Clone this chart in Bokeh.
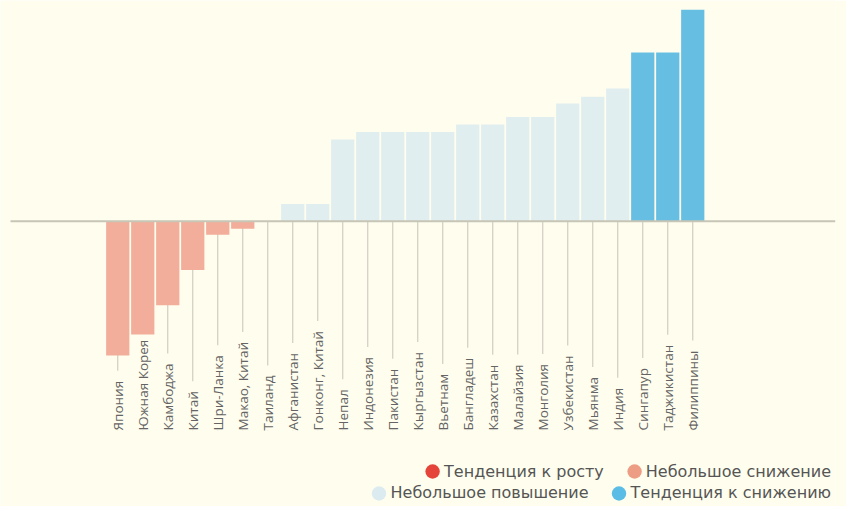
import math
from bokeh.plotting import figure
from bokeh.models import ColumnDataSource, Legend, LegendItem, Range1d
from bokeh.core.properties import value
from bokeh.embed import file_html
from bokeh.resources import INLINE

# ---- data ----
countries = ["Япония", "Южная Корея", "Камбоджа", "Китай", "Шри-Ланка", "Макао, Китай",
             "Таиланд", "Афганистан", "Гонконг, Китай", "Непал", "Индонезия", "Пакистан",
             "Кыргызстан", "Вьетнам", "Бангладеш", "Казахстан", "Малайзия", "Монголия",
             "Узбекистан", "Мьянма", "Индия", "Сингапур", "Таджикистан", "Филиппины"]
values = [-17.9, -15.1, -11.2, -6.5, -1.8, -1.0,
          0.0, 2.3, 2.3, 10.9, 11.9, 11.9,
          11.9, 11.9, 12.9, 12.9, 13.9, 13.9,
          15.7, 16.6, 17.7, 22.5, 22.5, 28.2]
groups = ["Небольшое снижение"] * 6 + ["Небольшое повышение"] * 15 + ["Тенденция к снижению"] * 3
legend_rows = [["Тенденция к росту", "Небольшое снижение"],
               ["Небольшое повышение", "Тенденция к снижению"]]

# ---- style ----
BG = "#FFFEEE"
COLORS = {"Тенденция к росту": "#E5443A",
          "Небольшое снижение": "#F2AE9A",
          "Небольшое повышение": "#E1EEF0",
          "Тенденция к снижению": "#66BFE3"}
LEG_COLORS = {"Тенденция к росту": "#E5443A",
              "Небольшое снижение": "#EE9D85",
              "Небольшое повышение": "#DCEBF0",
              "Тенденция к снижению": "#5BBDE6"}
FONT = "Open Sans"
LEG_FONT = "DejaVu Sans"

W, H = 846, 506
RIGHT_BORDER = 11
FRAME_W = W - RIGHT_BORDER
FRAME_H = H
PXX = 25.0     # px per category
PXY = 7.5      # px per value unit
LEFT_PAD = 4.69  # categories of empty space on the left
BASE_PX = 220.7  # baseline distance from frame top
LABEL_DEPTH = 27.9  # label bottom below baseline (value units)
ROW_H = 18
ROW_GAP = 22

n = len(countries)
xs = list(range(n))
x0 = -LEFT_PAD
x1 = x0 + FRAME_W / PXX
y1 = BASE_PX / PXY
y0 = y1 - FRAME_H / PXY

p = figure(width=W, height=H, output_backend="svg", toolbar_location=None,
           x_range=Range1d(x0, x1), y_range=Range1d(y0, y1),
           min_border=0, min_border_right=RIGHT_BORDER,
           background_fill_color=BG, border_fill_color=BG,
           outline_line_color=None)
p.xaxis.visible = False
p.yaxis.visible = False
p.grid.visible = False

src = ColumnDataSource(dict(
    x=xs, top=values, name=countries,
    color=[COLORS[g] for g in groups],
    ly=[-LABEL_DEPTH] * n, zero=[0.0] * n,
))

# leader lines
p.segment(x0="x", y0="zero", x1="x", y1="ly", source=src,
          line_color="#D0CDC0", line_width=1.2)

# labels (background hides the leader line behind them)
p.text(x="x", y="ly", text="name", source=src, angle=math.pi / 2,
       text_align="left", text_baseline="middle",
       text_font=value(FONT), text_font_size="13.5px", text_color="#646464",
       background_fill_color=BG,
       padding=dict(left=0, right=10, top=1, bottom=1))

# bars
p.vbar(x="x", top="top", bottom=0, width=0.93, source=src,
       fill_color="color", line_color=None)

# baseline
p.segment(x0=[x0 + 0.4], y0=[0], x1=[x1], y1=[0],
          line_color="#C7C5B6", line_width=2)

# legend: two right-aligned rows; the upper row uses taller items so that
# its entries sit one row above the lower one
for i, row in enumerate(legend_rows):
    items = []
    for lab in row:
        r = p.ellipse(x=[float("nan")], y=[float("nan")], width=14, height=14,
                      width_units="screen", height_units="screen",
                      fill_color=LEG_COLORS[lab], line_color=None)
        items.append(LegendItem(label=lab, renderers=[r]))
    k = len(legend_rows) - 1 - i
    hh = ROW_H + 2 * ROW_GAP * k
    leg = Legend(items=items, orientation="horizontal", location="bottom_right",
                 margin=4, padding=0, spacing=21, label_standoff=3,
                 glyph_width=18, glyph_height=hh, label_height=hh,
                 label_text_font=LEG_FONT, label_text_font_size="16px",
                 label_text_color="#555555",
                 background_fill_alpha=0, border_line_color=None)
    p.add_layout(leg)

open("out.html", "w").write(file_html(p, INLINE))
